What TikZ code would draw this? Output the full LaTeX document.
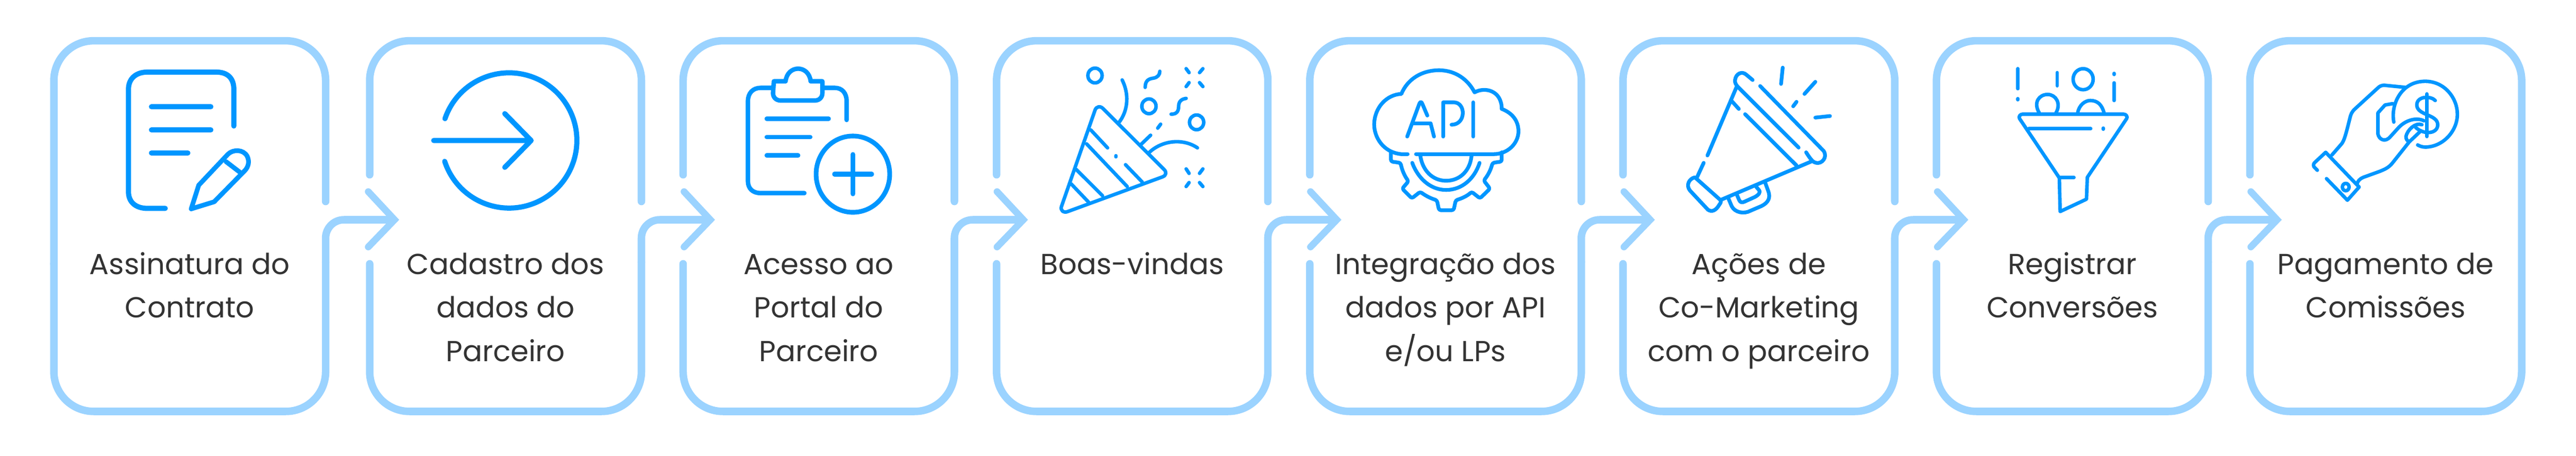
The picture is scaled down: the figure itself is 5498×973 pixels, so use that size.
\documentclass[tikz,border=0pt]{standalone}
\usepackage{fontspec}
\setmainfont{Poppins}
\definecolor{framec}{HTML}{9BD3FF}
\definecolor{iconc}{HTML}{0096FF}
\definecolor{textc}{HTML}{333333}
\newcommand{\strutup}{\rule{0pt}{30pt}}
\newcommand{\stepfont}{\fontsize{35.2}{52.9}\selectfont}
\tikzset{
  framel/.style={draw=framec,line width=0.32cm,line cap=round,line join=round,rounded corners=1.7cm},
  connl/.style={draw=framec,line width=0.32cm,line cap=butt,line join=round,rounded corners=0.78cm},
  headl/.style={draw=framec,line width=0.29cm,line cap=round,line join=miter},
  steptext/.style={anchor=north,inner sep=0pt,align=center,text=textc,font=\stepfont},
  ico/.style={draw=iconc,line width=#1,line cap=round,line join=round},
  ico/.default=0.2cm,
  za/.style={shift={(#1,50)},x=0.017857cm,y=-0.011223cm}
}
\newcommand{\stepframe}[4]{%
  % #1 index, #2 left, #3 right, #4 flag: 0 first, 1 middle, 2 last
  \coordinate (a#1) at (#2,373);
  \coordinate (b#1) at (#2,87);
  \coordinate (c#1) at (#3,87);
  \coordinate (d#1) at (#3,430);
  \coordinate (e#1) at (#3,469);
  \coordinate (j#1) at (#3,560);
  \coordinate (f#1) at (#3,878);
  \coordinate (g#1) at (#2,878);
  \coordinate (h#1) at (#2,563);
  \coordinate (tip#1) at (#3+147,469);
  \coordinate (up#1) at (#3+91,409);
  \coordinate (dn#1) at (#3+91,527);
  \ifnum#4=0
    \path[framel] (h#1) -- (b#1) -- (c#1) -- (d#1);
  \else\ifnum#4=2
    \path[framel] (a#1) -- (b#1) -- (c#1) -- (f#1) -- (g#1) -- (h#1);
  \else
    \path[framel] (a#1) -- (b#1) -- (c#1) -- (d#1);
  \fi\fi
  \ifnum#4=2\else
    \path[framel] (j#1) -- (f#1) -- (g#1) -- (h#1);
    \path[connl] (tip#1) -- (e#1) -- (j#1);
    \path[headl] (up#1) -- (tip#1) -- (dn#1);
  \fi
}
\begin{document}
\begin{tikzpicture}[x=0.02cm,y=-0.02cm]
\path[use as bounding box,fill=white] (0,0) rectangle (5498,973);
\stepframe{1}{115}{695}{0}
\stepframe{2}{789}{1369}{1}
\stepframe{3}{1458}{2037}{1}
\stepframe{4}{2127}{2706}{1}
\stepframe{5}{2795.5}{3375}{1}
\stepframe{6}{3464}{4044}{1}
\stepframe{7}{4133}{4713}{1}
\stepframe{8}{4802}{5382}{2}

\node[steptext] (t1) at (405,532) {\strutup Assinatura do\\Contrato};
\node[steptext] (t2) at (1079,532) {\strutup Cadastro dos\\dados do\\Parceiro};
\node[steptext] (t3) at (1747.5,532) {\strutup Acesso ao\\Portal do\\Parceiro};
\node[steptext] (t4) at (2416.5,532) {\strutup Boas-vindas};
\node[steptext] (t5) at (3085,532) {\strutup Integração dos\\dados por API\\e/ou LPs};
\node[steptext] (t6) at (3754,532) {\strutup Ações de\\Co-Marketing\\com o parceiro};
\node[steptext] (t7) at (4423,532) {\strutup Registrar\\Conversões};
\node[steptext] (t8) at (5092,532) {\strutup Pagamento de\\Comissões};

% icon 1
\begin{scope}[za=60]
\path[ico=0.22cm] (492,390) -- (492,250) .. controls (492,210) and (478,185) .. (450,185) -- (285,185) .. controls (258,185) and (240,210) .. (240,250) -- (240,640) .. controls (240,680) and (258,703) .. (285,703) -- (328,703);
\path[ico=0.22cm] (295,317) -- (437,317) (295,405) -- (437,405) (295,492) -- (382,492);
\path[ico=0.2cm] (390,705) -- (408,615) -- (478,497) .. controls (490,478) and (515,478) .. (524,505) .. controls (530,525) and (527,545) .. (518,560) -- (445,678) -- cycle;
\path[ico=0.2cm] (473,525) -- (510,570);
% icon 2
\path[ico=0.22cm] (997,362) arc[start angle=198.8,end angle=522,x radius=162,y radius=257];
\path[ico=0.22cm] (970,445) -- (1200,445) (1140,343) -- (1203,445) -- (1140,547);
\end{scope}
% icon 3
\begin{scope}[za=1400]
\path[ico=0.19cm] (456,367) -- (456,295) .. controls (456,265) and (445,245) .. (428,245) -- (398,245);
\path[ico=0.19cm] (280,245) -- (250,245) .. controls (232,245) and (220,265) .. (220,295) -- (220,600) .. controls (220,628) and (232,645) .. (250,645) -- (355,645);
\path[ico=0.19cm] (282,220) -- (310,220) .. controls (312,190) and (325,172) .. (340,172) .. controls (355,172) and (368,190) .. (370,220) -- (398,220) -- (398,265) .. controls (398,282) and (390,293) .. (380,293) -- (298,293) .. controls (288,293) and (280,282) .. (280,265) -- cycle;
\path[ico=0.19cm] (265,362) -- (413,362) (265,432) -- (369,432) (265,502) -- (340,502);
\path[ico=0.2cm] (471,573) ellipse[x radius=88,y radius=145];
\path[ico=0.2cm] (471,498) -- (471,648) (427,573) -- (516,573);
% icon 4
\path[ico=0.15cm] (970,695) -- (1050,330) .. controls (1053,315) and (1063,312) .. (1070,325) -- (1215,555) .. controls (1222,565) and (1220,578) .. (1212,583) -- (985,715) .. controls (975,722) and (966,710) .. (970,695) -- cycle;
\path[ico=0.15cm] (1040,405) -- (1080,473) (1030,458) -- (1127,620) (1005,555) -- (1068,655) (993,610) -- (1035,680) (1123,537) -- (1163,603) (1100,503) -- (1100,507);
\path[ico=0.15cm] (1115,215) .. controls (1135,280) and (1125,340) .. (1108,375);
\path[ico=0.15cm] (1183,425) -- (1160,460) (1180,490) .. controls (1210,445) and (1260,435) .. (1295,473) (1207,383) -- (1200,398);
\path[ico=0.15cm] (1050,198) ellipse[x radius=17,y radius=28] (1179,315) ellipse[x radius=17,y radius=28] (1293,376) ellipse[x radius=17,y radius=28];
\path[ico=0.15cm] (1170,243) .. controls (1170,215) and (1180,210) .. (1190,208) .. controls (1200,205) and (1205,195) .. (1205,182);
\path[ico=0.15cm] (1232,345) .. controls (1245,345) and (1250,335) .. (1250,315) .. controls (1250,295) and (1258,287) .. (1268,285);
\path[ico=0.15cm] (1268,172) -- (1275,187) (1308,172) -- (1300,187) (1275,225) -- (1268,240) (1300,225) -- (1308,240);
\path[ico=0.15cm] (1268,553) -- (1275,570) (1308,553) -- (1300,570) (1275,605) -- (1268,620) (1300,605) -- (1308,620);
\end{scope}
% icon 5
\begin{scope}[za=2750]
\path[ico=0.16cm] (285,497) -- (270,497) .. controls (225,490) and (205,430) .. (205,385) .. controls (205,320) and (235,270) .. (270,268) .. controls (285,210) and (320,178) .. (360,178) .. controls (400,178) and (430,215) .. (445,262) .. controls (470,240) and (510,255) .. (510,325) .. controls (535,340) and (550,370) .. (550,410) .. controls (550,455) and (525,497) .. (490,497) -- (305,497);
\path[ico=0.16cm] (284,430) -- (313,305) .. controls (315,297) and (318,297) .. (320,305) -- (332,350) (300,380) -- (340,380) -- (348,430);
\path[ico=0.16cm] (370,430) -- (370,300) -- (395,300) .. controls (425,300) and (425,385) .. (390,385);
\path[ico=0.16cm] (442,300) -- (442,430);
\path[ico=0.16cm,rounded corners=0.08cm] (245,490) -- (245,525) -- (268,530) .. controls (272,560) and (278,580) .. (287,600) -- (272,628) -- (295,665) -- (315,640) .. controls (328,655) and (340,665) .. (355,672) -- (360,710) -- (395,710) -- (400,672) .. controls (415,665) and (428,655) .. (438,640) -- (458,665) -- (482,628) -- (467,597) .. controls (478,575) and (484,555) .. (488,530) -- (510,525) -- (510,490);
\path[ico=0.16cm] (315,500) .. controls (320,560) and (345,598) .. (377,598) .. controls (410,598) and (435,560) .. (438,500);
\path[ico=0.16cm] (296,530) .. controls (310,590) and (340,633) .. (377,633) .. controls (415,633) and (445,590) .. (457,530);
% icon 6
\path[ico=0.16cm] (1110,215) -- (1095,195) .. controls (1085,180) and (1070,190) .. (1068,215) .. controls (1067,225) and (1070,232) .. (1074,240) -- (1220,472);
\path[ico=0.16cm] (1128,238) -- (1280,485) .. controls (1290,510) and (1275,535) .. (1262,530) .. controls (1255,528) and (1250,520) .. (1238,490);
\path[ico=0.16cm] (1072,240) -- (1002,502) (993,530) -- (977,585) (1060,295) -- (1077,325) (1092,345) -- (1215,540) (1250,525) -- (1035,670);
\path[ico=0.16cm] (972,585) .. controls (958,590) and (950,615) .. (960,635) -- (1003,708) .. controls (1012,718) and (1022,712) .. (1030,690) .. controls (1035,680) and (1035,675) .. (1032,670) -- cycle;
\path[ico=0.16cm] (1052,665) -- (1060,695) .. controls (1068,720) and (1090,725) .. (1105,712) -- (1130,695) .. controls (1150,680) and (1152,660) .. (1148,640) -- (1140,605);
\path[ico=0.16cm] (1072,650) -- (1078,672) .. controls (1080,680) and (1085,682) .. (1090,678) -- (1115,660) .. controls (1127,650) and (1128,640) .. (1126,635) -- (1118,620);
\path[ico=0.16cm] (1182,168) -- (1178,230) (1260,222) -- (1234,268) (1215,298) -- (1207,315) (1260,358) -- (1295,352);
\end{scope}
% icon 7
\begin{scope}[za=4098]
\path[ico=0.15cm] (245,345) -- (487,345) .. controls (493,345) and (497,355) .. (494,362) -- (400,585) -- (398,668) -- (335,715) -- (333,587) -- (238,362) .. controls (235,355) and (239,345) .. (245,345) -- cycle;
\path[ico=0.15cm] (260,400) -- (408,400) (438,398) -- (438,402) (335,585) -- (368,585);
\path[ico=0.15cm] (285,340) .. controls (270,300) and (285,270) .. (305,270) .. controls (325,270) and (338,305) .. (325,340);
\path[ico=0.15cm] (377,340) .. controls (380,310) and (395,293) .. (407,293) .. controls (425,293) and (435,310) .. (440,340);
\path[ico=0.15cm] (390,212) ellipse[x radius=24,y radius=40];
\path[ico=0.15cm] (234,172) -- (234,248) (234,286) -- (234,290) (328,187) -- (328,237) (464,226) -- (464,293) (464,190) -- (464,194);
% icon 8
\path[ico=0.15cm] (1133,375) .. controls (1125,310) and (1150,220) .. (1208,220) .. controls (1255,220) and (1285,285) .. (1285,345) .. controls (1285,410) and (1250,470) .. (1208,470) .. controls (1200,470) and (1195,466) .. (1190,462);
\path[ico=0.15cm] (1232,293) .. controls (1222,275) and (1188,275) .. (1188,310) .. controls (1188,350) and (1238,345) .. (1238,385) .. controls (1238,420) and (1205,425) .. (1185,395) (1212,268) -- (1212,430);
\path[ico=0.15cm] (1160,243) -- (1110,235) .. controls (1103,235) and (1098,240) .. (1095,245) -- (1040,325) .. controls (1033,335) and (1030,345) .. (1028,360) .. controls (1020,410) and (1015,445) .. (1008,458) -- (985,500);
\path[ico=0.15cm] (950,558) -- (942,545) .. controls (940,538) and (941,532) .. (945,527) -- (970,490) -- (1050,622) -- (1022,672) -- (972,590);
\path[ico=0.15cm] (1018,622) ellipse[x radius=8,y radius=14];
\path[ico=0.15cm] (1130,305) -- (1112,310) -- (1095,340) -- (1095,420) .. controls (1097,440) and (1112,455) .. (1125,430) -- (1145,395) .. controls (1160,370) and (1185,355) .. (1205,370);
\path[ico=0.15cm] (1200,385) .. controls (1185,375) and (1165,405) .. (1162,430) .. controls (1162,440) and (1165,447) .. (1170,450) -- (1198,408);
\path[ico=0.15cm] (1170,450) -- (1130,530) .. controls (1120,550) and (1110,555) .. (1100,562) -- (1060,585) .. controls (1050,592) and (1047,600) .. (1045,610);
\end{scope}
\end{tikzpicture}
\end{document}
